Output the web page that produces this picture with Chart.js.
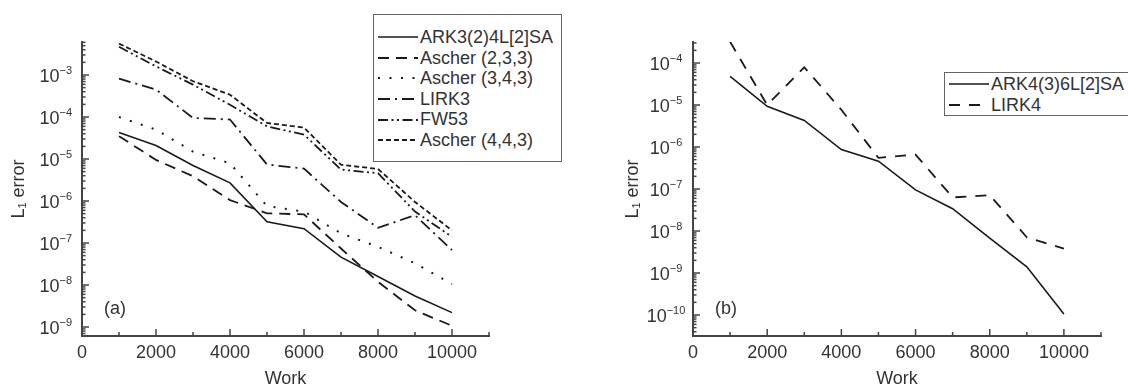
<!DOCTYPE html>
<html><head><meta charset="utf-8">
<script src="https://cdn.jsdelivr.net/npm/chart.js@4/dist/chart.umd.min.js"></script>
<style>
html,body{margin:0;padding:0;background:#fff;}
body{width:1128px;height:390px;position:relative;overflow:hidden;font-family:"Liberation Sans",Arial,sans-serif;color:#333;}
.wrap{position:absolute;top:0;height:390px;}
#w1{left:0;width:600px;} #w2{left:600px;width:528px;}
.legend{position:absolute;border:1.5px solid #666;background:#fff;font-size:18px;line-height:20.6px;white-space:nowrap;}
.row{display:flex;align-items:center;height:20.6px;}
.row svg{flex:none;margin-right:2px;}
.panel{position:absolute;font-size:18px;line-height:20px;}
.ylab{position:absolute;font-size:18px;line-height:18px;white-space:nowrap;color:#333;}
.ylab sup{font-size:11px;line-height:0;vertical-align:0;position:relative;top:-8px;}
</style>
</head><body>
<div class="wrap" id="w1"><canvas id="c1" width="600" height="390"></canvas></div>
<div class="wrap" id="w2"><canvas id="c2" width="528" height="390"></canvas></div>
<div class="legend" id="leg1" style="left:373px;top:14px;padding:12px 8px 10px 4px;"></div>
<div class="legend" id="leg2" style="left:944px;top:72px;padding:1px 20px 0 4px;"></div>
<div class="panel" style="left:104px;top:298px;">(a)</div>
<div class="panel" style="left:715px;top:298px;">(b)</div>
<script>
// ---- data ----
const work = [1000, 2000, 3000, 4000, 5000, 6000, 7000, 8000, 9000, 10000];
const ark3 = [4.3e-5, 2.1e-5, 7.0e-6, 2.7e-6, 3.2e-7, 2.2e-7, 4.6e-8, 1.6e-8, 5.5e-9, 2.2e-9];
const ascher233 = [3.5e-5, 9.5e-6, 3.9e-6, 1.05e-6, 5.1e-7, 4.8e-7, 7.4e-8, 1.2e-8, 2.5e-9, 1.07e-9];
const ascher343 = [1.0e-4, 5.0e-5, 1.5e-5, 7.9e-6, 7.6e-7, 5.6e-7, 1.7e-7, 8.1e-8, 3.3e-8, 1.05e-8];
const lirk3 = [8.2e-4, 4.5e-4, 9.5e-5, 8.7e-5, 7.4e-6, 5.9e-6, 9.5e-7, 2.3e-7, 4.6e-7, 6.8e-8];
const fw53 = [4.7e-3, 1.6e-3, 5.9e-4, 1.95e-4, 6.0e-5, 3.8e-5, 5.6e-6, 4.6e-6, 5.6e-7, 1.4e-7];
const ascher443 = [5.6e-3, 2.1e-3, 7.1e-4, 3.4e-4, 7.2e-5, 5.6e-5, 7.3e-6, 5.8e-6, 9.5e-7, 2.0e-7];
const ark4 = [4.8e-5, 9.3e-6, 4.3e-6, 8.7e-7, 4.6e-7, 9.5e-8, 3.4e-8, 6.8e-9, 1.4e-9, 1.05e-10];
const lirk4 = [3.2e-4, 1.0e-5, 7.9e-5, 7.7e-6, 5.5e-7, 6.6e-7, 6.3e-8, 7.1e-8, 7.1e-9, 3.8e-9];
const labelsA = ['ARK3(2)4L[2]SA', 'Ascher (2,3,3)', 'Ascher (3,4,3)', 'LIRK3', 'FW53', 'Ascher (4,4,3)'];
const labelsB = ['ARK4(3)6L[2]SA', 'LIRK4'];
const xTickLabels = [0, 2000, 4000, 6000, 8000, 10000];
const yDecadesA = [-9, -8, -7, -6, -5, -4, -3];
const yDecadesB = [-10, -9, -8, -7, -6, -5, -4];
const xLabel = 'Work';
const yLabel = 'L\u2081 error';

// ---- styles ----
const dashes = {solid: [], dash: [11, 7], dot: [2, 9.5], dashdot: [12, 5, 2, 5], dashdotdot: [10, 3.5, 2, 3.5, 2, 3.5], short: [5, 3], dashB: [11, 9]};
const ink = '#1a1a1a';
Chart.defaults.font.family = "'Liberation Sans', Arial, sans-serif";
Chart.defaults.font.size = 18;
Chart.defaults.color = '#333';

function mkSet(label, vals, dash, w) {
  return {label, data: work.map((x, i) => ({x, y: vals[i]})), borderColor: ink, borderWidth: w, borderDash: dash,
    pointRadius: 0, tension: 0, fill: false};
}
function isDecade(v) { const l = Math.log10(v); return Math.abs(l - Math.round(l)) < 1e-6; }

const innerTicks = {
  id: 'innerTicks',
  afterDraw(chart) {
    const ctx = chart.ctx, ca = chart.chartArea, xs = chart.scales.x, ys = chart.scales.y;
    ctx.save(); ctx.strokeStyle = '#444'; ctx.lineWidth = 1.5; ctx.setLineDash([]);
    ys.ticks.forEach(t => {
      const py = ys.getPixelForValue(t.value);
      if (py < ca.top - 0.5 || py > ca.bottom + 0.5) return;
      const len = isDecade(t.value) ? 7 : 3.5;
      ctx.beginPath(); ctx.moveTo(ca.left, py); ctx.lineTo(ca.left + len, py); ctx.stroke();
    });
    xs.ticks.forEach(t => {
      if (t.value === 0) return;
      const px = xs.getPixelForValue(t.value);
      const len = xTickLabels.includes(t.value) ? 7 : 4;
      ctx.beginPath(); ctx.moveTo(px, ca.bottom); ctx.lineTo(px, ca.bottom - len); ctx.stroke();
    });
    ctx.restore();
  }
};

function makeChart(id, datasets, yMin, yMax, yWidth, padRight, titlePad) {
  return new Chart(document.getElementById(id), {
    type: 'line',
    data: {datasets},
    options: {
      responsive: false, animation: false, events: [],
      layout: {padding: {left: 0, right: padRight, top: 42, bottom: 0}},
      plugins: {legend: {display: false}, tooltip: {enabled: false}},
      scales: {
        x: {type: 'linear', min: 0, max: 11000,
          grid: {display: false, drawTicks: false},
          border: {display: true, color: '#444', width: 2},
          ticks: {stepSize: 1000, autoSkip: false, maxRotation: 0, padding: 6, color: '#333',
            callback: v => xTickLabels.includes(v) ? String(v) : ''},
          title: {display: true, text: xLabel, color: '#333', padding: {top: 0, bottom: 0}},
          afterFit: s => { s.height = 54; }
        },
        y: {type: 'logarithmic', min: yMin, max: yMax,
          grid: {display: false, drawTicks: false},
          border: {display: true, color: '#444', width: 2},
          afterBuildTicks: s => {
            const t = [];
            for (let e = Math.floor(Math.log10(yMin)); e <= Math.ceil(Math.log10(yMax)); e++)
              for (let m = 1; m <= 9; m++) { const v = m * Math.pow(10, e); if (v >= yMin && v <= yMax) t.push({value: v}); }
            s.ticks = t;
          },
          ticks: {display: false, autoSkip: false},
          title: {display: true, text: yLabel, color: '#333', padding: {top: titlePad, bottom: 0}},
          afterFit: s => { s.width = yWidth; }
        }
      }
    },
    plugins: [innerTicks]
  });
}

// y tick labels as real text with superscript exponents, placed by the chart's own y scale
function yTickLabels(chart, decades, wrapLeft, anchorX, align) {
  const ys = chart.scales.y;
  decades.forEach(e => {
    const py = ys.getPixelForValue(Math.pow(10, e));
    const d = document.createElement('div');
    d.className = 'ylab';
    d.appendChild(document.createTextNode('10'));
    const s = document.createElement('sup');
    s.textContent = (e < 0 ? '\u2212' + (-e) : String(e));
    d.appendChild(s);
    d.style.width = '80px';
    d.style.textAlign = align;
    d.style.left = (wrapLeft + (align === 'right' ? anchorX - 80 : anchorX - 40)) + 'px';
    d.style.top = (py - 8) + 'px';
    document.body.appendChild(d);
  });
}

const setsA = [
  mkSet(labelsA[0], ark3, dashes.solid, 1.6),
  mkSet(labelsA[1], ascher233, dashes.dash, 1.8),
  mkSet(labelsA[2], ascher343, dashes.dot, 2),
  mkSet(labelsA[3], lirk3, dashes.dashdot, 1.8),
  mkSet(labelsA[4], fw53, dashes.dashdotdot, 1.8),
  mkSet(labelsA[5], ascher443, dashes.short, 1.8)
];
const setsB = [
  mkSet(labelsB[0], ark4, dashes.solid, 1.6),
  mkSet(labelsB[1], lirk4, dashes.dashB, 1.8)
];
const chA = makeChart('c1', setsA, Math.pow(10, -9.214), Math.pow(10, -2.214), 82, 111, 8);
const chB = makeChart('c2', setsB, Math.pow(10, -10.5), Math.pow(10, -3.5), 93, 27, 22);
yTickLabels(chA, yDecadesA, 0, 72, 'right');
yTickLabels(chB, yDecadesB, 600, 66, 'center');

function buildLegend(el, sets) {
  sets.forEach(ds => {
    const row = document.createElement('div'); row.className = 'row';
    const dash = ds.borderDash.length ? ds.borderDash.join(' ') : 'none';
    row.innerHTML = '<svg width="40" height="6"><line x1="0" y1="3" x2="40" y2="3" stroke="' + ink + '" stroke-width="' + ds.borderWidth + '" stroke-dasharray="' + dash + '"/></svg>';
    const sp = document.createElement('span'); sp.textContent = ds.label; row.appendChild(sp);
    el.appendChild(row);
  });
}
buildLegend(document.getElementById('leg1'), setsA);
buildLegend(document.getElementById('leg2'), setsB);
</script>
</body></html>
